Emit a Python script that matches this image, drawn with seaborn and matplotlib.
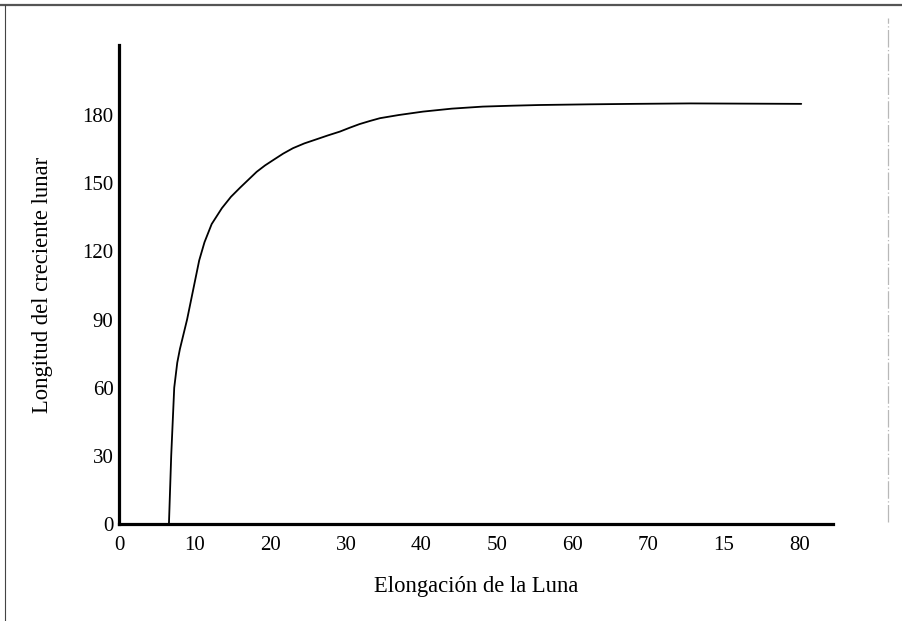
import matplotlib
matplotlib.use("Agg")
import matplotlib.pyplot as plt
from matplotlib.lines import Line2D
import seaborn as sns
import pandas as pd

# Crescent length against lunar elongation
elongacion = [6.6, 6.9, 7.3, 7.7, 8.05, 9.0, 9.8, 10.6, 11.3, 12.25, 13.6, 14.8,
              16.0, 17.1, 18.2, 19.3, 20.4, 21.7, 23.0, 24.5, 26.1, 27.6, 29.2,
              30.5, 31.8, 33.2, 34.5, 37.0, 40.2, 44.0, 48.1, 52.0, 55.6, 62.2,
              68.0, 75.5, 83.0, 90.2]
longitud = [0, 30, 60, 71, 77, 90, 103, 116, 124, 132, 139, 144,
            148, 151.5, 155, 157.8, 160.2, 163, 165.4, 167.5, 169.3, 171, 172.7,
            174.4, 176, 177.4, 178.6, 180, 181.5, 182.8, 183.7, 184.1, 184.4, 184.7,
            184.9, 185.1, 185, 184.9]

x_ticks = [0, 10, 20, 30, 40, 50, 60, 70, 80, 90]
x_tick_labels = ["0", "10", "20", "30", "40", "50", "60", "70", "15", "80"]
y_ticks = [0, 30, 60, 90, 120, 150, 180]

df = pd.DataFrame({"elongacion": elongacion, "longitud": longitud})

sns.set_theme(style="white")
plt.rcParams["font.family"] = ["Liberation Serif", "DejaVu Serif"]

fig = plt.figure(figsize=(9.03, 6.21), dpi=100)
ax = fig.add_axes([0.1318, 0.1562, 0.7907, 0.7713])

sns.lineplot(data=df, x="elongacion", y="longitud", sort=False,
             color="black", linewidth=1.3, ax=ax)

ax.set_xlim(0, 94.4)
ax.set_ylim(0, 210.8)
ax.set_xticks(x_ticks)
ax.set_xticklabels(x_tick_labels)
ax.set_yticks(y_ticks)

for side in ("top", "right"):
    ax.spines[side].set_visible(False)
for side in ("left", "bottom"):
    ax.spines[side].set_linewidth(2.3)
    ax.spines[side].set_color("black")

ax.tick_params(axis="both", direction="in", colors="black", labelsize=15,
               width=2.2, length=7)
ax.tick_params(axis="x", pad=9)
ax.tick_params(axis="y", pad=4)

ax.set_xlabel("Elongación de la Luna", fontsize=16.3, color="black", labelpad=15)
ax.set_ylabel("Longitud del creciente lunar", fontsize=16.3, color="black")
ax.yaxis.set_label_coords(-0.093, 0.5)

# Page frame lines
fig.add_artist(Line2D([0, 1], [1 - 4.5 / 621, 1 - 4.5 / 621],
                      transform=fig.transFigure, color="#555555", linewidth=1.6))
fig.add_artist(Line2D([5 / 903, 5 / 903], [0, 1 - 4.5 / 621],
                      transform=fig.transFigure, color="#444444", linewidth=0.8))
fig.add_artist(Line2D([888 / 903, 888 / 903], [1 - 522 / 621, 1 - 18 / 621],
                      transform=fig.transFigure, color="#b8b8b8", linewidth=0.9,
                      linestyle=(0, (14, 2, 1, 2))))

fig.savefig("out.png", dpi=100, facecolor="white")
